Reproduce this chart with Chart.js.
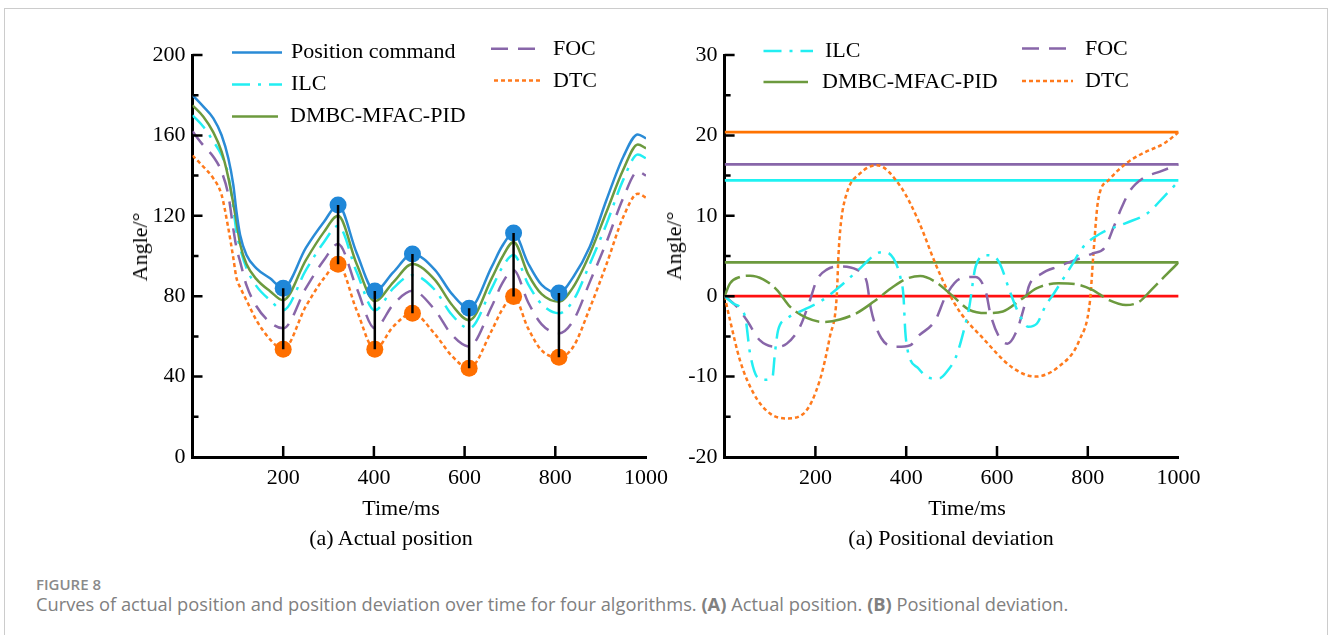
<!DOCTYPE html>
<html>
<head>
<meta charset="utf-8">
<script src="https://cdn.jsdelivr.net/npm/chart.js@4.4.1/dist/chart.umd.min.js"></script>
<style>
body { margin: 0; width: 1328px; height: 635px; background: #fff; position: relative; overflow: hidden; }
#frame { position: absolute; left: 4px; top: 8px; width: 1324px; height: 700px; border: 1.5px solid #cccccc; box-sizing: border-box; }
canvas { position: absolute; }
.lbl { position: absolute; font-family: 'Liberation Serif', serif; font-size: 22px; line-height: 1; white-space: nowrap; color: #000; transform: translate(-50%, -50%); }
.rot { transform: translate(-50%, -50%) rotate(-90deg); }
.cap { position: absolute; left: 36px; font-family: 'Open Sans', sans-serif; color: #808080; white-space: nowrap; line-height: 1; }
</style>
</head>
<body>
<div id="frame"></div>
<canvas id="posChart" width="580" height="480" style="left:100px;top:25px"></canvas>
<canvas id="devChart" width="580" height="480" style="left:640px;top:25px"></canvas>

<div class="lbl rot" style="left:140px;top:247px">Angle/°</div>
<div class="lbl" style="left:401px;top:508px">Time/ms</div>
<div class="lbl" style="left:391px;top:538px">(a) Actual position</div>
<div class="lbl rot" style="left:674px;top:246px">Angle/°</div>
<div class="lbl" style="left:967px;top:508px">Time/ms</div>
<div class="lbl" style="left:951px;top:538px">(a) Positional deviation</div>

<div class="cap" style="top:577px;font-size:15px;font-weight:600;color:#8a8a8a">FIGURE 8</div>
<div class="cap" style="top:594.5px;font-size:18.3px">Curves of actual position and position deviation over time for four algorithms. <b>(A)</b> Actual position. <b>(B)</b> Positional deviation.</div>

<script>
// (a) actual position
const timeMs = [0, 24, 46, 64, 79, 90, 97, 105, 119, 141, 171, 200, 250, 290, 321, 362, 402, 443, 485, 535, 571, 610, 660, 682, 708, 740, 770, 808, 840, 876, 913, 950, 982, 1000]
const positionCommand = [180, 174.3, 168.5, 160.2, 148.6, 135.3, 122, 110.4, 100.5, 93.9, 88.9, 84, 104, 117, 125.4, 101.5, 82.6, 92, 101, 93, 81.4, 74, 94.7, 104.6, 111.4, 96.4, 85.6, 81.6, 89.7, 104.6, 128, 149.4, 160.5, 158.5]
const ilcPos = [170, 164.3, 157, 150.2, 140.3, 124, 112, 103.8, 94, 85, 78, 73, 93, 107, 115, 92, 73, 84, 90.5, 83, 71, 64, 84, 94, 100.5, 86, 76, 71.5, 78, 96, 116, 138, 150.5, 148.6]
const dmbcPos = [175, 169.3, 161.5, 152, 139, 126, 117, 106, 96, 88.5, 82.5, 78, 98, 112, 120, 96, 77.5, 87, 96, 88, 76, 68, 89, 99, 107, 91, 81, 77.3, 84.7, 101, 122, 143, 155.5, 153.6]
const focPos = [162, 155, 149.4, 142, 130.3, 113.5, 104, 97.2, 85.5, 75, 67, 64, 84, 98, 106, 84, 64, 76, 82.7, 73, 61, 55, 75, 86, 93, 77, 66, 61.5, 68, 87, 107, 129, 142, 140]
const dtcPos = [150, 144.4, 138.6, 130.5, 113.8, 99, 89, 84.5, 78, 68, 58.5, 53.6, 75, 89, 95.9, 73, 53.6, 65, 71.5, 61, 50.5, 44.1, 63, 73, 79.8, 64, 53, 49.6, 55, 74, 96, 119.5, 131, 129]
const markTime = [200, 321, 402, 485, 610, 708, 808]

// (b) positional deviation
const ilcT = [0, 19, 45, 56, 71, 86, 105, 111, 118, 137, 174, 210, 254, 299, 335, 352, 372, 387, 394, 398, 403, 427, 455, 473, 492, 510, 529, 539, 553, 576, 595, 609, 627, 651, 669, 688, 706, 726, 763, 791, 828, 884, 931, 968, 1000]
const ilcDev = [0, -0.9, -2.5, -7.1, -10, -10.4, -10.2, -7, -4.2, -2.8, -1.7, -0.7, 1.2, 3.5, 5.3, 5.5, 4.7, 2.4, 0, -4.4, -6.7, -9, -10.2, -10.2, -9.2, -7.5, -3.8, -1.3, 3.7, 5.1, 4.9, 3.7, 0.8, -2.5, -3.8, -3.4, -1.3, 0.4, 3.7, 6.2, 7.8, 9.1, 10.3, 12.4, 14.3]
const dmbcT = [0, 12, 34, 56, 85, 115, 144, 181, 218, 254, 291, 328, 372, 402, 431, 464, 501, 539, 576, 613, 651, 688, 735, 773, 810, 847, 884, 913, 940, 968, 1000]
const dmbcDev = [0, 1.6, 2.4, 2.55, 2.1, 0.8, -1.3, -2.7, -3.2, -2.9, -2.1, -0.7, 1.2, 2.2, 2.5, 1.8, 0.1, -1.7, -2.1, -1.9, -0.5, 1, 1.6, 1.5, 0.8, -0.5, -1.1, -0.7, 0.8, 2.4, 4.2]
const focT = [0, 27, 49, 78, 115, 137, 166, 188, 203, 225, 254, 291, 313, 322, 345, 380, 409, 426, 464, 487, 520, 553, 576, 585, 604, 623, 641, 660, 670, 698, 735, 773, 810, 838, 857, 875, 894, 922, 959, 1000]
const focDev = [0, -1.3, -3, -5.5, -6.3, -5.9, -3.8, -0.5, 2, 3.3, 3.7, 3.3, 1.8, -1.5, -5.2, -6.3, -6.1, -5, -3, 0, 2.2, 2.4, 0.4, -2.1, -5, -5.9, -4.6, -1.3, 1.2, 2.8, 3.7, 4.5, 5.3, 6.1, 8.6, 11.1, 13.2, 14.7, 15.5, 16.4]
const dtcT = [0, 12, 34, 63, 100, 137, 174, 210, 232, 247, 251, 256, 269, 299, 335, 388, 426, 464, 492, 520, 567, 632, 684, 735, 782, 805, 812, 823, 847, 884, 922, 968, 1000]
const dtcDev = [0, -3, -8, -12, -14.6, -15.2, -14.6, -10.4, -5, 0, 5.3, 9, 12.8, 15.3, 16.3, 13.6, 9.5, 4.1, 0.6, -2.1, -5.1, -8.8, -10, -8.8, -5.4, -0.5, 5, 12, 14.5, 16.5, 17.8, 19, 20.4]
const maxDev = [14.4, 4.2, 16.4, 20.4]   // ILC, DMBC-MFAC-PID, FOC, DTC

const BLUE = '#2a8bd6', CYAN = '#22eef2', GREEN = '#6c9a3e', PURPLE = '#8866a9', ORANGE = '#ff7a1c'
const DASH = { ILC: [18, 8, 3, 8], FOC: [17, 10], DTC: [4, 3] }

Chart.defaults.font.family = "'Liberation Serif', 'Times New Roman', serif"
Chart.defaults.font.size = 22
Chart.defaults.color = '#000'

const pts = (xs, ys) => xs.map((x, i) => ({ x, y: ys[i] }))
const curve = (label, data, color, dash, order, width) => ({
    label, data, borderColor: color, borderWidth: width || 2.5, borderDash: dash || [],
    pointRadius: 0, cubicInterpolationMode: 'monotone', fill: false, order
})

// inside tick marks, major on the ticks, minor half way
const axisTicks = {
    id: 'axisTicks',
    afterDraw(chart) {
        const { ctx, scales: { x, y } } = chart
        const yv = y.ticks.map(t => t.value)
        const step = yv[1] - yv[0]
        ctx.save()
        ctx.strokeStyle = '#000'
        ctx.lineWidth = 2.5
        ctx.beginPath()
        yv.forEach(v => {
            const py = y.getPixelForValue(v)
            if (v !== y.min) { ctx.moveTo(x.left, py); ctx.lineTo(x.left + 10, py) }
            if (v !== y.max) {
                const pm = y.getPixelForValue(v + step / 2)
                ctx.moveTo(x.left, pm); ctx.lineTo(x.left + 6, pm)
            }
        })
        x.ticks.forEach(t => {
            if (t.value === x.min || t.value === x.max) return
            const px = x.getPixelForValue(t.value)
            ctx.moveTo(px, y.bottom); ctx.lineTo(px, y.bottom - 11)
        })
        ctx.stroke()
        ctx.restore()
    }
}

const drawnLegend = {
    id: 'drawnLegend',
    afterDraw(chart, args, opts) {
        const ctx = chart.ctx
        ctx.save()
        ctx.font = "22px 'Liberation Serif'"
        ctx.textBaseline = 'middle'
        ctx.fillStyle = '#000'
        opts.items.forEach(it => {
            ctx.strokeStyle = it.color
            ctx.lineWidth = 2.5
            ctx.setLineDash(it.dash || [])
            ctx.beginPath()
            ctx.moveTo(it.x0, it.y); ctx.lineTo(it.x1, it.y)
            ctx.stroke()
            ctx.fillText(it.text, it.tx, it.ty)
        })
        ctx.restore()
    }
}

const baseOptions = (yMin, yMax, yStep, yWidth, padRight, legendItems) => ({
    responsive: false,
    animation: false,
    devicePixelRatio: 1,
    layout: { padding: { top: 30, right: padRight, left: 0, bottom: 0 } },
    plugins: { legend: { display: false }, tooltip: { enabled: false }, drawnLegend: { items: legendItems } },
    scales: {
        x: {
            type: 'linear', min: 0, max: 1000,
            ticks: { stepSize: 200, padding: 8, maxRotation: 0, autoSkip: false, callback: v => v === 0 ? '' : v },
            grid: { display: false, drawTicks: false },
            border: { color: '#000', width: 3 },
            afterFit: s => { s.height = 48 }
        },
        y: {
            min: yMin, max: yMax,
            ticks: { stepSize: yStep, padding: 7 },
            grid: { display: false, drawTicks: false },
            border: { color: '#000', width: 3 },
            afterFit: s => { s.width = yWidth }
        }
    }
})

// left chart
const markCmd = markTime.map(t => positionCommand[timeMs.indexOf(t)])
const markDtc = markTime.map(t => dtcPos[timeMs.indexOf(t)])
const gapLines = markTime.flatMap((t, i) => [{ x: t, y: markCmd[i] }, { x: t, y: markDtc[i] }, { x: t, y: null }])

new Chart(document.querySelector('#posChart').getContext('2d'), {
    type: 'line',
    data: {
        datasets: [
            { data: gapLines, borderColor: '#000', borderWidth: 2.5, pointRadius: 0, spanGaps: false, order: 0 },
            { data: pts(markTime, markCmd), showLine: false, pointRadius: 8.5, pointBackgroundColor: '#1f87d8', pointBorderWidth: 0, order: 1 },
            { data: pts(markTime, markDtc), showLine: false, pointRadius: 8.5, pointBackgroundColor: '#ff6f00', pointBorderWidth: 0, order: 1 },
            curve('Position command', pts(timeMs, positionCommand), BLUE, [], 2),
            curve('DMBC-MFAC-PID', pts(timeMs, dmbcPos), GREEN, [], 3),
            curve('ILC', pts(timeMs, ilcPos), CYAN, DASH.ILC, 4),
            curve('FOC', pts(timeMs, focPos), PURPLE, DASH.FOC, 5),
            curve('DTC', pts(timeMs, dtcPos), ORANGE, DASH.DTC, 6)
        ]
    },
    options: baseOptions(0, 200, 40, 92.5, 34, [
        { text: 'Position command', color: BLUE, x0: 132, x1: 182, y: 27.5, tx: 191, ty: 27 },
        { text: 'ILC', color: CYAN, dash: DASH.ILC, x0: 132, x1: 182, y: 59.5, tx: 191, ty: 59 },
        { text: 'DMBC-MFAC-PID', color: GREEN, x0: 132, x1: 178, y: 91.5, tx: 190, ty: 91 },
        { text: 'FOC', color: PURPLE, dash: DASH.FOC, x0: 391, x1: 437, y: 23.7, tx: 453, ty: 24 },
        { text: 'DTC', color: ORANGE, dash: DASH.DTC, x0: 394, x1: 441, y: 55.5, tx: 453, ty: 56 }
    ]),
    plugins: [axisTicks, drawnLegend]
})

// right chart
const flat = (v, color) => curve('', [{ x: 0, y: v }, { x: 1000, y: v }], color, [], 7, 2.8)

new Chart(document.querySelector('#devChart').getContext('2d'), {
    type: 'line',
    data: {
        datasets: [
            curve('ILC', pts(ilcT, ilcDev), CYAN, DASH.ILC, 2),
            curve('DMBC-MFAC-PID', pts(dmbcT, dmbcDev), GREEN, [26, 6], 3),
            curve('FOC', pts(focT, focDev), PURPLE, DASH.FOC, 4),
            curve('DTC', pts(dtcT, dtcDev), ORANGE, DASH.DTC, 5),
            flat(maxDev[0], '#1ff2f2'),
            flat(maxDev[1], GREEN),
            flat(maxDev[2], PURPLE),
            flat(maxDev[3], '#ff7300'),
            flat(0, '#ff1010')
        ]
    },
    options: baseOptions(-20, 30, 10, 84.6, 41.4, [
        { text: 'ILC', color: CYAN, dash: DASH.ILC, x0: 123.5, x1: 173, y: 26, tx: 185, ty: 26 },
        { text: 'DMBC-MFAC-PID', color: GREEN, x0: 123.5, x1: 168, y: 57, tx: 182, ty: 57 },
        { text: 'FOC', color: PURPLE, dash: DASH.FOC, x0: 382, x1: 428, y: 23.5, tx: 445, ty: 24 },
        { text: 'DTC', color: ORANGE, dash: DASH.DTC, x0: 382, x1: 433, y: 56, tx: 445, ty: 56 }
    ]),
    plugins: [axisTicks, drawnLegend]
})
</script>
</body>
</html>
